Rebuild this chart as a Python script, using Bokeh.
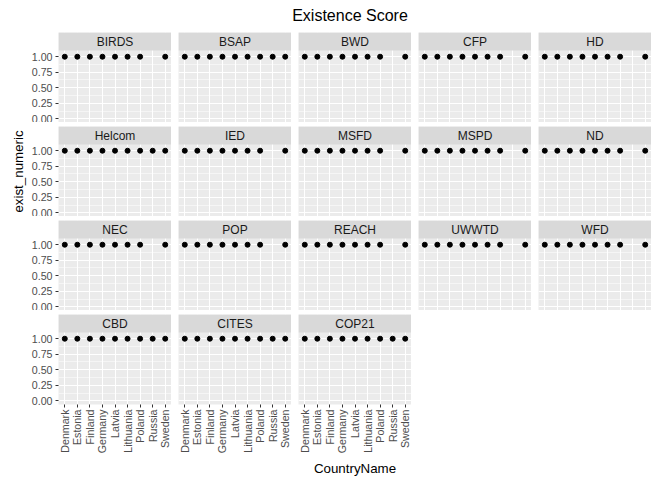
import math
from bokeh.plotting import figure
from bokeh.layouts import gridplot, column
from bokeh.models import Div, FixedTicker, BoxAnnotation, Label
from bokeh.embed import file_html
from bokeh.resources import INLINE

countries = ["Denmark", "Estonia", "Finland", "Germany", "Latvia",
             "Lithuania", "Poland", "Russia", "Sweden"]
instruments = ["BIRDS", "BSAP", "BWD", "CFP", "HD",
               "Helcom", "IED", "MSFD", "MSPD", "ND",
               "NEC", "POP", "REACH", "UWWTD", "WFD",
               "CBD", "CITES", "COP21"]
# exist_numeric per country (None = no record)
exist_values = {
    "BIRDS": [1, 1, 1, 1, 1, 1, 1, None, 1],
    "BSAP":  [1, 1, 1, 1, 1, 1, 1, 1, 1],
    "BWD":   [1, 1, 1, 1, 1, 1, 1, None, 1],
    "CFP":   [1, 1, 1, 1, 1, 1, 1, None, 1],
    "HD":    [1, 1, 1, 1, 1, 1, 1, None, 1],
    "Helcom": [1, 1, 1, 1, 1, 1, 1, 1, 1],
    "IED":   [1, 1, 1, 1, 1, 1, 1, None, 1],
    "MSFD":  [1, 1, 1, 1, 1, 1, 1, None, 1],
    "MSPD":  [1, 1, 1, 1, 1, 1, 1, None, 1],
    "ND":    [1, 1, 1, 1, 1, 1, 1, None, 1],
    "NEC":   [1, 1, 1, 1, 1, 1, 1, None, 1],
    "POP":   [1, 1, 1, 1, 1, 1, 1, None, 1],
    "REACH": [1, 1, 1, 1, 1, 1, 1, None, 1],
    "UWWTD": [1, 1, 1, 1, 1, 1, 1, None, 1],
    "WFD":   [1, 1, 1, 1, 1, 1, 1, None, 1],
    "CBD":   [1, 1, 1, 1, 1, 1, 1, 1, 1],
    "CITES": [1, 1, 1, 1, 1, 1, 1, 1, 1],
    "COP21": [1, 1, 1, 1, 1, 1, 1, 1, 1],
}
y_ticks = [0.0, 0.25, 0.5, 0.75, 1.0]

FONT = "Liberation Sans"
ncol = 5
FW = 113
grid = []
row = []
for i, name in enumerate(instruments):
    r, c = divmod(i, ncol)
    bottom = (r == 3)
    p = figure(x_range=countries, y_range=(-0.06, 1.39), frame_width=FW, frame_height=90,
               output_backend="svg", toolbar_location=None,
               min_border_left=58 if c == 0 else 7, min_border_right=0,
               min_border_top=4, min_border_bottom=78 if bottom else 0)
    p.outline_line_color = None
    p.background_fill_color = "#EBEBEB"
    p.border_fill_color = "white"

    xs = [cn for cn, v in zip(countries, exist_values[name]) if v is not None]
    ys = [v for v in exist_values[name] if v is not None]
    p.scatter(xs, ys, size=5, color="black")

    # facet strip
    p.add_layout(BoxAnnotation(bottom=1.1, fill_color="#D9D9D9", fill_alpha=1,
                               line_color=None))
    p.add_layout(Label(x=FW / 2, x_units="screen", y=1.245, text=name,
                       text_align="center", text_baseline="middle",
                       text_font=FONT, text_font_size="9pt", text_color="#1A1A1A"))

    p.yaxis.ticker = FixedTicker(ticks=y_ticks, minor_ticks=[0.125, 0.375, 0.625, 0.875])
    p.ygrid.grid_line_color = "white"
    p.ygrid.grid_line_width = 1.1
    p.ygrid.minor_grid_line_color = "white"
    p.ygrid.minor_grid_line_width = 0.5
    p.xgrid.grid_line_color = "white"
    p.xgrid.grid_line_width = 1.1

    for ax in (p.xaxis, p.yaxis):
        ax.axis_line_color = None
        ax.major_tick_line_color = "#333333"
        ax.major_tick_in = 0
        ax.major_tick_out = 3
        ax.minor_tick_line_color = None
        ax.major_label_text_font = FONT
        ax.major_label_text_font_size = "8pt"
        ax.major_label_text_color = "#4D4D4D"
        ax.axis_label_text_font = FONT
        ax.axis_label_text_font_size = "10pt"
        ax.axis_label_text_font_style = "normal"
        ax.axis_label_text_color = "black"

    p.yaxis.major_label_overrides = {t: f"{t:.2f}" for t in y_ticks}
    p.yaxis.major_label_standoff = 2
    p.yaxis.axis_label_standoff = 3
    p.yaxis.visible = (c == 0)
    p.xaxis.visible = bottom
    p.xaxis.major_label_orientation = math.pi / 2
    p.xaxis.major_label_standoff = 2
    if name == "Helcom":
        p.yaxis.axis_label = "exist_numeric"
    if name == "COP21":
        p.xaxis.axis_label = "CountryName"

    row.append(p)
    if len(row) == ncol:
        grid.append(row)
        row = []
if row:
    grid.append(row + [None] * (ncol - len(row)))

g = gridplot(grid, toolbar_location=None)
title = Div(text="Existence Score", width=600, height=18,
            styles={"text-align": "center", "font-family": FONT, "font-size": "16px",
                    "margin-left": "50px"})
p = column(title, g)

open("out.html", "w").write(file_html(p, INLINE))
